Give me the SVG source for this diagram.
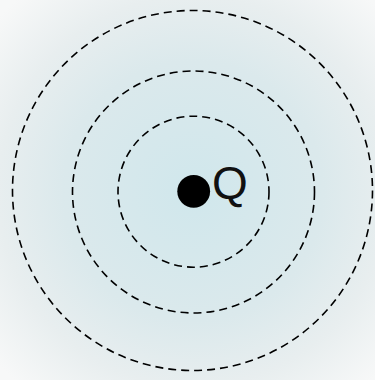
<svg xmlns="http://www.w3.org/2000/svg" width="375" height="380" viewBox="0 0 375 380">
<defs>
<radialGradient id="bg" cx="193" cy="191" r="260" gradientUnits="userSpaceOnUse">
<stop offset="0" stop-color="#d0e7ec"/>
<stop offset="0.5" stop-color="#dbe9ec"/>
<stop offset="0.75" stop-color="#e8eeef"/>
<stop offset="1" stop-color="#f7f8f8"/>
</radialGradient>
<style>
.ring{fill:none;stroke:#000;stroke-width:1.6;stroke-dasharray:8 5}
.lbl{font-family:"Liberation Sans",Arial,sans-serif;font-size:46px;fill:#111}
</style>
</defs>
<rect width="375" height="380" fill="url(#bg)"/>
<g id="rings">
<circle id="ring-outer" class="ring" cx="192.5" cy="190.5" r="180"/>
<circle id="ring-middle" class="ring" cx="193.5" cy="192" r="121"/>
<circle id="ring-inner" class="ring" cx="193.5" cy="191.7" r="75.5"/>
</g>
<g id="charge">
<circle cx="193.7" cy="191.3" r="16.4" fill="#000"/>
<text class="lbl" x="212" y="198.5">Q</text>
</g>
</svg>
